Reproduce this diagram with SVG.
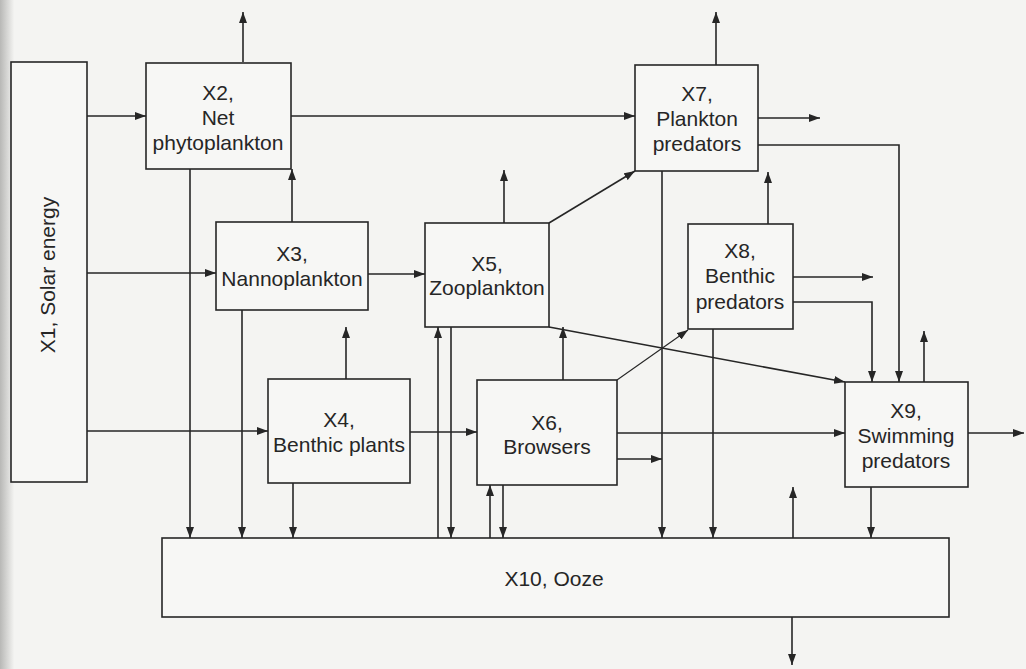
<svg xmlns="http://www.w3.org/2000/svg" width="1026" height="669" viewBox="0 0 1026 669">
  <defs>
    <marker id="ah" markerUnits="userSpaceOnUse" markerWidth="11" markerHeight="8" refX="11" refY="4" orient="auto">
      <path d="M0,0 L11,4 L0,8 z" fill="#262626"/>
    </marker>
    <linearGradient id="edge" x1="0" y1="0" x2="1" y2="0">
      <stop offset="0" stop-color="#b8b8b6"/>
      <stop offset="1" stop-color="#f3f3f1"/>
    </linearGradient>
    <style>
      .box { fill: #f7f7f5; stroke: #262626; stroke-width: 1.6; }
      .lbl { font-family: "Liberation Sans", Arial, sans-serif; font-size: 21px; fill: #262626; text-anchor: middle; }
      .c { fill: none; stroke: #262626; stroke-width: 1.6; marker-end: url(#ah); }
      .thin { stroke-width: 1.1; }
    </style>
  </defs>
  <rect x="0" y="0" width="1026" height="669" fill="#f4f4f2"/>
  <rect x="0" y="0" width="14" height="669" fill="url(#edge)"/>

  <g id="connectors">
    <path class="c" d="M87,116 H146"/>
    <path class="c" d="M87,273 H216"/>
    <path class="c" d="M87,431 H268"/>
    <path class="c" d="M243,62 V12"/>
    <path class="c" d="M190,169 V538"/>
    <path class="c" d="M291,116 H635"/>
    <path class="c" d="M292,222 V169"/>
    <path class="c" d="M368,274 H425"/>
    <path class="c" d="M242,310 V538"/>
    <path class="c" d="M346,379 V327"/>
    <path class="c" d="M410,432 H477"/>
    <path class="c" d="M293,483 V538"/>
    <path class="c" d="M504,223 V170"/>
    <path class="c" d="M549,223 L635,171"/>
    <path class="c" d="M549,327 L845,382"/>
    <path class="c" d="M451,327 V538"/>
    <path class="c" d="M438,538 V327"/>
    <path class="c" d="M563,380 V327"/>
    <path class="c thin" d="M617,380 L688,330"/>
    <path class="c" d="M617,433 H845"/>
    <path class="c" d="M617,459 H662"/>
    <path class="c" d="M503,485 V538"/>
    <path class="c" d="M490,538 V485"/>
    <path class="c" d="M716,65 V12"/>
    <path class="c" d="M758,118 H820"/>
    <path class="c" d="M758,145 H899 V382"/>
    <path class="c" d="M662,171 V538"/>
    <path class="c" d="M768,224 V172"/>
    <path class="c" d="M793,277 H873"/>
    <path class="c" d="M793,302 H872 V382"/>
    <path class="c" d="M713,329 V538"/>
    <path class="c" d="M924,382 V331"/>
    <path class="c" d="M968,433 H1024"/>
    <path class="c" d="M871,487 V538"/>
    <path class="c" d="M793,538 V487"/>
    <path class="c" d="M792,617 V665"/>
  </g>

  <g id="x1">
    <rect class="box" x="11" y="62" width="76" height="420"/>
    <text class="lbl" transform="translate(55,275) rotate(-90)">X1, Solar energy</text>
  </g>
  <g id="x2">
    <rect class="box" x="146" y="63" width="145" height="106"/>
    <text class="lbl" x="218" y="100">X2,</text>
    <text class="lbl" x="218" y="125">Net</text>
    <text class="lbl" x="218" y="150">phytoplankton</text>
  </g>
  <g id="x3">
    <rect class="box" x="216" y="222" width="152" height="88"/>
    <text class="lbl" x="292" y="261">X3,</text>
    <text class="lbl" x="292" y="286">Nannoplankton</text>
  </g>
  <g id="x4">
    <rect class="box" x="268" y="379" width="142" height="104"/>
    <text class="lbl" x="339" y="427">X4,</text>
    <text class="lbl" x="339" y="452">Benthic plants</text>
  </g>
  <g id="x5">
    <rect class="box" x="425" y="223" width="124" height="104"/>
    <text class="lbl" x="487" y="271">X5,</text>
    <text class="lbl" x="487" y="295">Zooplankton</text>
  </g>
  <g id="x6">
    <rect class="box" x="477" y="380" width="140" height="105"/>
    <text class="lbl" x="547" y="430">X6,</text>
    <text class="lbl" x="547" y="454">Browsers</text>
  </g>
  <g id="x7">
    <rect class="box" x="635" y="65" width="123" height="106"/>
    <text class="lbl" x="697" y="101">X7,</text>
    <text class="lbl" x="697" y="126">Plankton</text>
    <text class="lbl" x="697" y="151">predators</text>
  </g>
  <g id="x8">
    <rect class="box" x="688" y="224" width="105" height="105"/>
    <text class="lbl" x="740" y="258">X8,</text>
    <text class="lbl" x="740" y="283">Benthic</text>
    <text class="lbl" x="740" y="309">predators</text>
  </g>
  <g id="x9">
    <rect class="box" x="845" y="382" width="123" height="105"/>
    <text class="lbl" x="906" y="418">X9,</text>
    <text class="lbl" x="906" y="443">Swimming</text>
    <text class="lbl" x="906" y="468">predators</text>
  </g>
  <g id="x10">
    <rect class="box" x="162" y="538" width="787" height="79"/>
    <text class="lbl" x="554" y="586">X10, Ooze</text>
  </g>
</svg>
